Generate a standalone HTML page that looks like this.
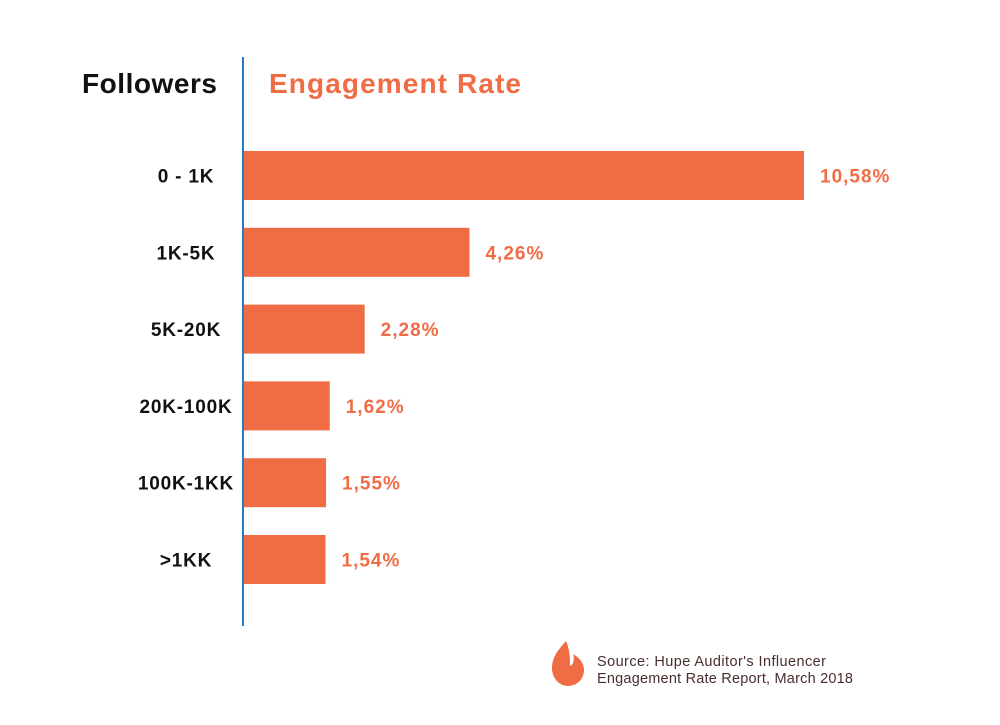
<!DOCTYPE html>
<html><head><meta charset="utf-8"><style>
html,body{margin:0;padding:0;background:#fff;}
svg{display:block;font-family:"Liberation Sans",sans-serif;}
</style></head><body>
<svg width="1000" height="725" viewBox="0 0 1000 725">
<text x="82" y="93" font-size="28" font-weight="bold" fill="#111" textLength="135" lengthAdjust="spacing">Followers</text>
<text x="269" y="93" font-size="28" font-weight="bold" fill="#ef6c45" textLength="252" lengthAdjust="spacing">Engagement Rate</text>
<line x1="243" y1="57" x2="243" y2="626" stroke="#2a7bc4" stroke-width="2"/>
<g id="bars"></g>
<path d="M566 641 C560 648,552 656,552 668 C552 679,560 686,568 686 C577 686,584 679,584 670 C584 662,578 657,573 654 C575 660,573 665,570 666 C570 659,570 650,566 641 Z" fill="#ef6c45"/>
<text x="597" y="666" font-size="14.5" fill="#4a2e2e" textLength="229" lengthAdjust="spacing">Source: Hupe Auditor's Influencer</text>
<text x="597" y="683" font-size="14.5" fill="#4a2e2e" textLength="256" lengthAdjust="spacing">Engagement Rate Report, March 2018</text>
</svg>
<script>
const categories = ["0 - 1K","1K-5K","5K-20K","20K-100K","100K-1KK",">1KK"];
const values = [10.58,4.26,2.28,1.62,1.55,1.54];
const valueLabels = ["10,58%","4,26%","2,28%","1,62%","1,55%","1,54%"];
const x0 = 244, pxPerUnit = 560/10.58;
const xScale = v => x0 + v*pxPerUnit;
const yScale = i => 151 + i*76.8;
const barH = 49;
const g = document.getElementById('bars');
const NS = "http://www.w3.org/2000/svg";
categories.forEach((c,i)=>{
  const y = yScale(i);
  const r = document.createElementNS(NS,'rect');
  r.setAttribute('x',x0); r.setAttribute('y',y);
  r.setAttribute('width',xScale(values[i])-x0); r.setAttribute('height',barH);
  r.setAttribute('fill','#ef6c45');
  
  
  g.appendChild(r);
  const t = document.createElementNS(NS,'text');
  t.setAttribute('x',186); t.setAttribute('y',y+barH/2+7);
  t.setAttribute('text-anchor','middle'); t.setAttribute('font-size','19');
  t.setAttribute('font-weight','bold'); t.setAttribute('fill','#111');
  t.setAttribute('letter-spacing','0.8');
  t.textContent = c;
  
  
  g.appendChild(t);
  const v = document.createElementNS(NS,'text');
  v.setAttribute('x',xScale(values[i])+16); v.setAttribute('y',y+barH/2+7);
  v.setAttribute('font-size','19'); v.setAttribute('font-weight','bold');
  v.setAttribute('fill','#ef6c45');
  v.setAttribute('letter-spacing','1');
  v.textContent = valueLabels[i];
  
  
  g.appendChild(v);
});
</script>
</body></html>
